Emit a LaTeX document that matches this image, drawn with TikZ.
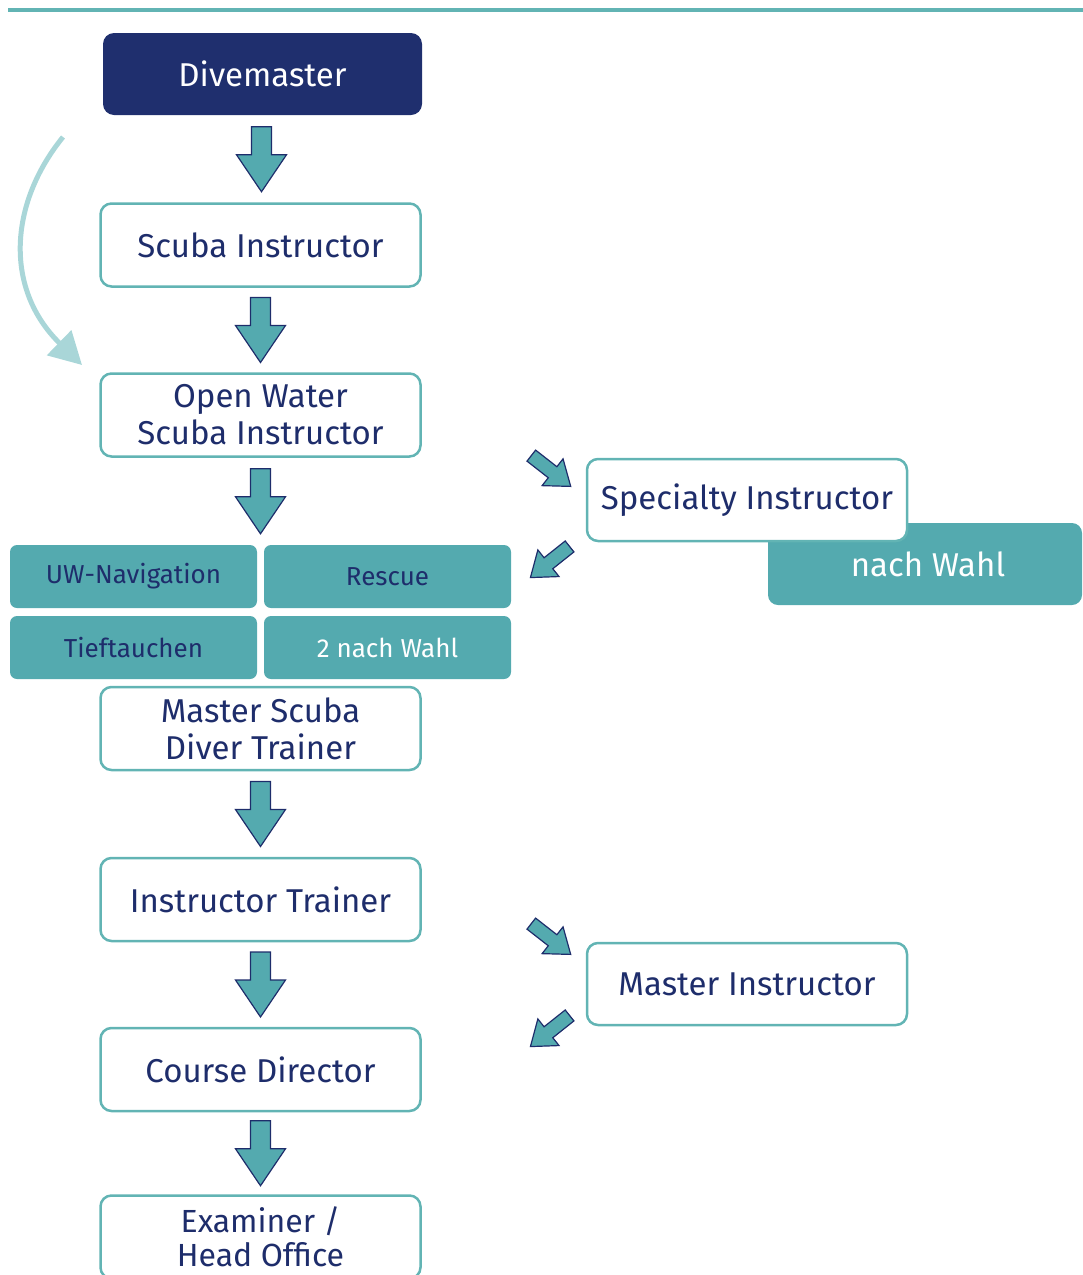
\documentclass[tikz,border=0pt]{standalone}
\usepackage{fontspec}
\setmainfont{Fira Sans}
\usetikzlibrary{calc,arrows.meta}
\definecolor{navy}{HTML}{1E2D6B}
\definecolor{navybox}{HTML}{1F2F6E}
\definecolor{tealfill}{HTML}{54AAAF}
\definecolor{tealline}{HTML}{62B4B4}
\definecolor{lightteal}{HTML}{A9D6D8}
\begin{document}
\begin{tikzpicture}[x=1pt,y=-1pt,
  box/.style={draw=tealline, line width=2.5pt, fill=white, rounded corners=11pt,
    minimum width=320pt, minimum height=83pt, inner sep=0pt, text=navy,
    font=\fontsize{33}{37}\selectfont, align=center},
  topbox/.style={box, draw=none, fill=navybox, text=white},
  cell/.style={fill=tealfill, rounded corners=7pt, minimum width=247pt,
    minimum height=63pt, inner sep=0pt, text=navy, font=\fontsize{26}{30}\selectfont},
  arrowfill/.style={fill=tealfill, draw=navy, line width=1.2pt, line join=miter},
  pics/bigarrow/.style={code={
    \draw[arrowfill] (-32.5,-10) -- (-4.5,-10) -- (-4.5,-25) -- (32.5,0)
      -- (-4.5,25) -- (-4.5,10) -- (-32.5,10) -- cycle;}},
  pics/smallarrow/.style={code={
    \draw[arrowfill] (-25,-7) -- (2,-7) -- (2,-17) -- (25,0)
      -- (2,17) -- (2,7) -- (-25,7) -- cycle;}}
]
\useasboundingbox (0,0) rectangle (1083,1275);

% top rule
\coordinate (ruleL) at (8,10);
\coordinate (ruleR) at (1083,10);
\draw[tealline, line width=4pt] (ruleL) -- (ruleR);

% main column
\node[topbox, minimum width=319pt, minimum height=82pt] (dm) at (262.5,74) {Divemaster};
\node[box] (si) at (260.5,245) {Scuba Instructor};
\node[box] (ow) at (260.5,415) {Open Water\\Scuba Instructor};

% specialty grid
\node[cell] (uw) at (133.5,576.5) {UW-Navigation};
\node[cell] (re) at (387.5,576.5) {Rescue};
\node[cell] (tt) at (133.5,647.5) {Tieftauchen};
\node[cell, text=white] (zw) at (387.5,647.5) {2 nach Wahl};

\node[box] (ms) at (260.5,728.5) {Master Scuba\\Diver Trainer};
\node[box] (it) at (260.5,899.5) {Instructor Trainer};
\node[box] (cd) at (260.5,1069.5) {Course Director};
\node[box, font=\fontsize{32}{34}\selectfont, text depth=0pt] (ex) at (260.5,1237) {Examiner /\\Head Office};

% side branch: specialty
\node[cell, minimum width=314pt, minimum height=82pt, rounded corners=10pt,
  text=white, font=\fontsize{33}{37}\selectfont] (nw) at (925,564) {\hspace*{6pt}nach Wahl};
\node[box, minimum height=82pt] (sp) at (747,500) {Specialty Instructor};

% side branch: master instructor
\node[box, minimum height=82pt] (mi) at (747,984) {Master Instructor};

% vertical block arrows
\pic[rotate=-90] at ($(dm.south)!0.5!(si.north)$) {bigarrow};
\pic[rotate=-90] at ($(si.south)!0.5!(ow.north)$) {bigarrow};
\pic[rotate=-90] at ($(ow.south)!0.5!(uw.north -| ow.south)$) {bigarrow};
\pic[rotate=-90] at ($(ms.south)!0.5!(it.north)$) {bigarrow};
\pic[rotate=-90] at ($(it.south)!0.5!(cd.north)$) {bigarrow};
\pic[rotate=-90] at ($(cd.south)!0.5!(ex.north)$) {bigarrow};

% diagonal small arrows
\pic[rotate=-38] at (551,471) {smallarrow};
\pic[rotate=-141.5] at (550,562) {smallarrow};
\pic[rotate=-38] at (551,939) {smallarrow};
\pic[rotate=-141.5] at (550,1031) {smallarrow};

% curved skip arrow
\coordinate (cs) at (63,137);
\coordinate (ce) at (82,365);
\draw[lightteal, line width=5pt, -{Triangle[length=32pt,width=34pt]}]
  (cs) .. controls (8,205) and (5,290) .. (ce);
\end{tikzpicture}
\end{document}
